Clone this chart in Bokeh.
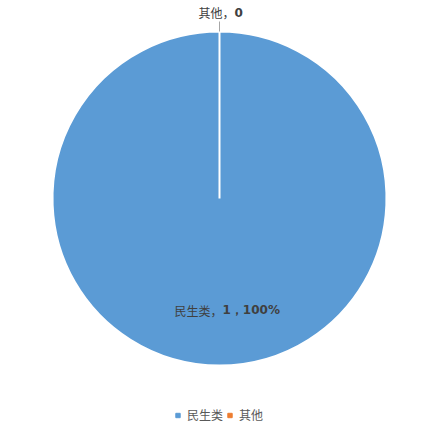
import math
from bokeh.plotting import figure
from bokeh.models import ColumnDataSource, Range1d, Legend, LegendItem
from bokeh.core.properties import value
from bokeh.embed import file_html
from bokeh.resources import INLINE

categories = ["民生类", "其他"]
values = [1, 0]
colors = ["#5B9BD5", "#ED7D31"]

W, H = 431, 422
CX, CY, R = 219, 224, 167

total = sum(values)
starts, ends, cum = [], [], 0.0
for v in values:
    starts.append(math.pi / 2 - 2 * math.pi * cum / total)
    cum += v
    ends.append(math.pi / 2 - 2 * math.pi * cum / total)

p = figure(width=W, height=H, output_backend="svg", toolbar_location=None,
           x_range=Range1d(0, W), y_range=Range1d(0, H), min_border=0)
p.axis.visible = False
p.grid.visible = False
p.outline_line_color = None
p.background_fill_color = "white"

# only non-empty slices get a wedge (a zero-width arc would render as a full circle)
idx = [i for i, v in enumerate(values) if v > 0]
w_end = [ends[i] + (1e-6 if abs(starts[i] - ends[i]) >= 2 * math.pi - 1e-9 else 0) for i in idx]
src = ColumnDataSource(dict(start=[starts[i] for i in idx], end=w_end,
                            color=[colors[i] for i in idx],
                            x=[CX] * len(idx), y=[CY] * len(idx)))
p.wedge(x="x", y="y", radius=R, start_angle="start", end_angle="end",
        direction="clock", fill_color="color", line_color="white", line_width=2,
        source=src)

# labels
nx, ny, nt, bx, by, bt = [], [], [], [], [], []
lx0, ly0, lx1, ly1 = [], [], [], []
for cat, v, s, e in zip(categories, values, starts, ends):
    mid = (s + e) / 2
    frac = v / total
    if frac > 0:
        rr = 0.67 * R
        ax, ay = CX + rr * math.cos(mid), CY + rr * math.sin(mid)
        split = ax + 3
        bold = f"{v}，{round(frac * 100)}%"
    else:
        rr = R + 19
        ax, ay = CX + rr * math.cos(mid), CY + rr * math.sin(mid)
        split = ax + 15
        bold = f"{v}"
        lx0.append(CX + R * math.cos(mid)); ly0.append(CY + R * math.sin(mid))
        lx1.append(CX + (R + 10) * math.cos(mid)); ly1.append(CY + (R + 10) * math.sin(mid))
    nx.append(split); ny.append(ay); nt.append(f"{cat}，")
    bx.append(split); by.append(ay); bt.append(bold)

if lx0:
    p.segment(x0=lx0, y0=ly0, x1=lx1, y1=ly1, line_color="#A6A6A6", line_width=1)

p.text(x=nx, y=ny, text=nt, text_align="right", text_baseline="middle",
       text_font=value("Noto Sans CJK SC"), text_font_size="12px", text_color="#404040")
p.text(x=bx, y=by, text=bt, text_align="left", text_baseline="middle",
       text_font=value("DejaVu Sans"), text_font_style="bold", text_font_size="12px",
       text_color="#404040")

# legend
items = []
for cat, c in zip(categories, colors):
    r = p.scatter(x=[float("nan")], y=[float("nan")], marker="square",
                  fill_color=c, line_color=c)
    items.append(LegendItem(label=cat, renderers=[r]))
legend = Legend(items=items, orientation="horizontal", location=(172, -1),
                glyph_width=11, glyph_height=12, label_standoff=4, spacing=1,
                padding=0, margin=0, label_height=12,
                label_text_font="Noto Sans CJK SC", label_text_font_size="12px",
                label_text_color="#595959", border_line_color=None,
                background_fill_alpha=0)
p.add_layout(legend, "center")

open("out.html", "w").write(file_html(p, INLINE))
